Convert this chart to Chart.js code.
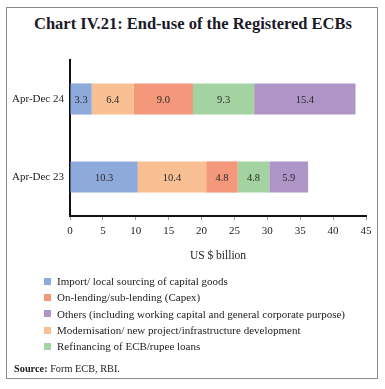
<!DOCTYPE html>
<html>
<head>
<meta charset="utf-8">
<script src="https://cdn.jsdelivr.net/npm/chart.js@4/dist/chart.umd.min.js"></script>
<style>
  html, body { margin: 0; padding: 0; background: #fff; }
  body { width: 385px; height: 389px; position: relative; overflow: hidden; font-family: "Liberation Serif", "DejaVu Serif", serif; color: #222; }
  #frame { position: absolute; left: 6px; top: 7px; width: 372px; height: 372px; border: 1.5px solid #8a8a8a; box-sizing: border-box; }
  #title { position: absolute; left: 0; width: 386px; top: 14px; text-align: center; font-weight: bold; font-size: 16.5px; color: #1a1a2a; }
  #chart { position: absolute; left: 0; top: 0; }
  #legend { position: absolute; left: 44px; top: 273px; font-size: 11px; }
  .li { height: 16.3px; line-height: 16px; white-space: nowrap; display: flex; align-items: center; }
  .sw { width: 7px; height: 7px; margin-right: 6px; display: inline-block; }
  #source { position: absolute; left: 14px; top: 363px; font-size: 10.3px; }
</style>
</head>
<body>
<div id="frame"></div>
<div id="title">Chart IV.21: End-use of the Registered ECBs</div>
<canvas id="chart" width="385" height="389"></canvas>
<div id="legend"></div>
<div id="source"><b>Source:</b> Form ECB, RBI.</div>
<script>
// Data
const categories = ["Apr-Dec 24", "Apr-Dec 23"];
const seriesNames = [
  "Import/ local sourcing of capital goods",
  "Modernisation/ new project/infrastructure development",
  "On-lending/sub-lending (Capex)",
  "Refinancing of ECB/rupee loans",
  "Others (including working capital and general corporate purpose)"
];
const importCapital   = [3.3, 10.3];
const modernisation   = [6.4, 10.4];
const onLending       = [9.0, 4.8];
const refinancing     = [9.3, 4.8];
const others          = [15.4, 5.9];
const xTicks = [0, 5, 10, 15, 20, 25, 30, 35, 40, 45];
const legendOrder = [0, 2, 4, 1, 3];

const colors = ["#8eaadb", "#f8bf93", "#f4987b", "#a3d3a0", "#ae94c7"];
const seriesValues = [importCapital, modernisation, onLending, refinancing, others];

const datasets = seriesValues.map((vals, i) => ({
  label: seriesNames[i],
  data: vals,
  backgroundColor: colors[i],
  borderWidth: 0,
  categoryPercentage: 0.8,
  barPercentage: 0.5
}));

const valueLabels = {
  id: 'valueLabels',
  afterDatasetsDraw(chart) {
    const ctx = chart.ctx;
    ctx.save();
    ctx.font = '10.5px "Liberation Serif", serif';
    ctx.fillStyle = '#2a2a2a';
    ctx.textAlign = 'center';
    ctx.textBaseline = 'middle';
    chart.data.datasets.forEach((ds, di) => {
      const meta = chart.getDatasetMeta(di);
      meta.data.forEach((bar, i) => {
        const p = bar.getCenterPoint();
        ctx.fillText(ds.data[i].toFixed(1), p.x, p.y + 1);
      });
    });
    ctx.restore();
  }
};

new Chart(document.getElementById('chart'), {
  type: 'bar',
  data: { labels: categories, datasets },
  options: {
    indexAxis: 'y',
    responsive: false,
    animation: false,
    layout: { padding: { left: 0, right: 19, top: 60, bottom: 122 } },
    plugins: { legend: { display: false }, title: { display: false }, tooltip: { enabled: false } },
    scales: {
      x: {
        stacked: true,
        min: 0, max: 45,
        afterBuildTicks(scale) { scale.ticks = xTicks.map(v => ({ value: v })); },
        grid: { drawOnChartArea: false, drawTicks: true, tickLength: 4, color: '#9a9a9a' },
        border: { display: true, color: '#111', width: 2 },
        ticks: { padding: 5, color: '#222', font: { family: '"Liberation Serif", serif', size: 11 } },
        title: { display: true, text: 'US $ billion', color: '#222', padding: { top: 6, bottom: 4 }, font: { family: '"Liberation Serif", serif', size: 11.5 } }
      },
      y: {
        stacked: true,
        afterFit(scale) { scale.width = 70; },
        grid: { display: false, drawTicks: false },
        border: { display: true, color: '#111', width: 2 },
        ticks: { padding: 6, color: '#222', font: { family: '"Liberation Serif", serif', size: 11 } }
      }
    }
  },
  plugins: [valueLabels]
});

const legend = document.getElementById('legend');
legendOrder.forEach(i => {
  const row = document.createElement('div');
  row.className = 'li';
  const sw = document.createElement('span');
  sw.className = 'sw';
  sw.style.background = colors[i];
  row.appendChild(sw);
  row.appendChild(document.createTextNode(seriesNames[i]));
  legend.appendChild(row);
});
</script>
</body>
</html>
